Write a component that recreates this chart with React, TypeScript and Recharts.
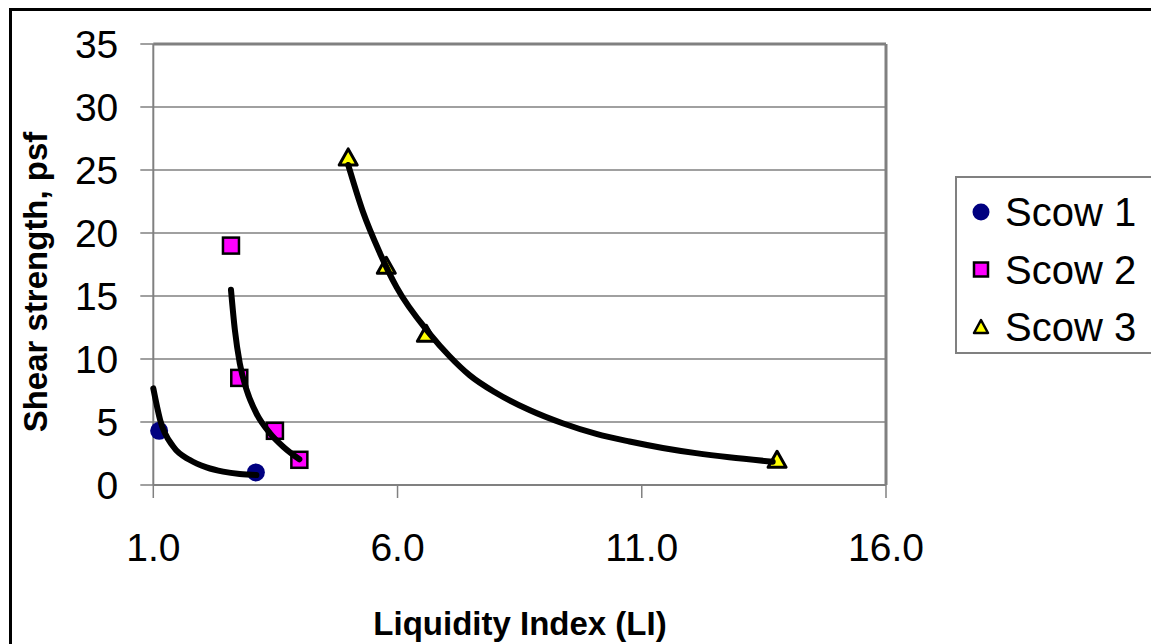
import React from 'react';
import { ComposedChart, Scatter, XAxis, YAxis, CartesianGrid, ReferenceLine } from 'recharts';

const FONT = '"Liberation Sans", Arial, Helvetica, sans-serif';

const xTicks = [1, 6, 11, 16];
const yTicks = [0, 5, 10, 15, 20, 25, 30, 35];
const seriesNames = ['Scow 1', 'Scow 2', 'Scow 3'];
const xTitle = 'Liquidity Index (LI)';
const yTitle = 'Shear strength, psf';

const scow1 = [
  { x: 1.12, y: 4.3 },
  { x: 3.1, y: 1.0 },
];
const scow2 = [
  { x: 2.59, y: 19.0 },
  { x: 2.76, y: 8.5 },
  { x: 3.49, y: 4.3 },
  { x: 3.99, y: 2.0 },
];
const scow3 = [
  { x: 4.99, y: 26.0 },
  { x: 5.77, y: 17.4 },
  { x: 6.59, y: 12.0 },
  { x: 13.77, y: 2.0 },
];

const trend1 = [
  { x: 1.0, y: 7.67 },
  { x: 1.14, y: 5.16 },
  { x: 1.41, y: 3.04 },
  { x: 1.75, y: 1.98 },
  { x: 2.09, y: 1.4 },
  { x: 2.43, y: 1.06 },
  { x: 2.77, y: 0.87 },
  { x: 3.11, y: 0.79 },
];
const trend2 = [
  { x: 2.59, y: 15.5 },
  { x: 2.67, y: 12.3 },
  { x: 2.77, y: 9.66 },
  { x: 2.91, y: 7.54 },
  { x: 3.11, y: 5.69 },
  { x: 3.39, y: 4.1 },
  { x: 3.66, y: 3.04 },
  { x: 3.99, y: 2.04 },
];
const trend3 = [
  { x: 4.99, y: 25.4 },
  { x: 5.29, y: 21.7 },
  { x: 5.64, y: 18.4 },
  { x: 5.98, y: 15.7 },
  { x: 6.66, y: 12.0 },
  { x: 7.07, y: 10.2 },
  { x: 7.48, y: 8.7 },
  { x: 8.02, y: 7.3 },
  { x: 8.7, y: 5.95 },
  { x: 9.38, y: 4.9 },
  { x: 10.07, y: 4.05 },
  { x: 10.75, y: 3.45 },
  { x: 11.43, y: 2.94 },
  { x: 12.11, y: 2.53 },
  { x: 12.79, y: 2.2 },
  { x: 13.68, y: 1.85 },
];

const CircleMark = (p: any) => <circle cx={p.cx} cy={p.cy} r={9} fill="#000080" />;
const SquareMark = (p: any) => (
  <rect x={p.cx - 8} y={p.cy - 8} width={16} height={16} fill="#FF00FF" stroke="#000" strokeWidth={2.5} />
);
const TriMark = (p: any) => (
  <polygon
    points={`${p.cx},${p.cy - 8.5} ${p.cx + 9},${p.cy + 7.5} ${p.cx - 9},${p.cy + 7.5}`}
    fill="#FFFF00"
    stroke="#000"
    strokeWidth={3}
    strokeLinejoin="round"
  />
);
const NoMark = () => null;

const legendMarks = [
  (cx: number, cy: number) => <circle cx={cx} cy={cy} r={8.5} fill="#000080" />,
  (cx: number, cy: number) => (
    <rect x={cx - 7} y={cy - 7} width={14} height={14} fill="#FF00FF" stroke="#000" strokeWidth={2.5} />
  ),
  (cx: number, cy: number) => (
    <polygon
      points={`${cx},${cy - 7} ${cx + 7},${cy + 6} ${cx - 7},${cy + 6}`}
      fill="#FFFF00"
      stroke="#000"
      strokeWidth={2.5}
      strokeLinejoin="round"
    />
  ),
];

const trendLine = { stroke: '#000', strokeWidth: 6, fill: 'none', strokeLinecap: 'round' as const };

export default function App() {
  return (
    <div style={{ position: 'absolute', left: 0, top: 0, width: 1151, height: 644, overflow: 'hidden', background: '#fff' }}>
      <div
        style={{
          position: 'absolute',
          left: 9,
          top: 8,
          width: 1300,
          height: 800,
          borderLeft: '3px solid #000',
          borderTop: '3px solid #000',
        }}
      />
      <div style={{ position: 'absolute', left: 0, top: 0 }}>
        <ComposedChart width={1151} height={644} margin={{ top: 44, right: 265, bottom: 99, left: 53.3 }}>
          <CartesianGrid vertical={false} stroke="#808080" strokeWidth={1.5} />
          <XAxis
            type="number"
            dataKey="x"
            domain={[1, 16]}
            ticks={xTicks}
            interval={0}
            tickFormatter={(v: number) => v.toFixed(1)}
            height={60}
            tickSize={13}
            tickMargin={35}
            axisLine={{ stroke: '#808080', strokeWidth: 2 }}
            tickLine={{ stroke: '#808080', strokeWidth: 1.5 }}
            tick={{ fill: '#000', fontSize: 39, fontFamily: FONT }}
          />
          <YAxis
            type="number"
            dataKey="y"
            domain={[0, 35]}
            ticks={yTicks}
            interval={0}
            width={100}
            tickSize={13}
            tickMargin={22}
            axisLine={{ stroke: '#808080', strokeWidth: 2 }}
            tickLine={{ stroke: '#808080', strokeWidth: 1.5 }}
            tick={{ fill: '#000', fontSize: 39, fontFamily: FONT }}
          />
          <ReferenceLine y={35} stroke="#808080" strokeWidth={3} />
          <ReferenceLine x={16} stroke="#808080" strokeWidth={3} />
          <Scatter name={seriesNames[0]} data={scow1} shape={CircleMark} isAnimationActive={false} />
          <Scatter name={seriesNames[1]} data={scow2} shape={SquareMark} isAnimationActive={false} />
          <Scatter name={seriesNames[2]} data={scow3} shape={TriMark} isAnimationActive={false} />
          <Scatter data={trend1} shape={NoMark} line={trendLine} lineType="joint" lineJointType="monotone" legendType="none" isAnimationActive={false} />
          <Scatter data={trend2} shape={NoMark} line={trendLine} lineType="joint" lineJointType="monotone" legendType="none" isAnimationActive={false} />
          <Scatter data={trend3} shape={NoMark} line={trendLine} lineType="joint" lineJointType="monotone" legendType="none" isAnimationActive={false} />
        </ComposedChart>
      </div>
      <svg width={1151} height={644} style={{ position: 'absolute', left: 0, top: 0, pointerEvents: 'none' }}>
        <text x={520} y={635} textAnchor="middle" fontFamily={FONT} fontWeight="bold" fontSize={33} fill="#000">
          {xTitle}
        </text>
        <text
          x={0}
          y={0}
          transform="translate(47,282) rotate(-90)"
          textAnchor="middle"
          fontFamily={FONT}
          fontWeight="bold"
          fontSize={33}
          fill="#000"
        >
          {yTitle}
        </text>
      </svg>
      <div
        style={{
          position: 'absolute',
          left: 955,
          top: 176,
          width: 260,
          height: 174,
          border: '2px solid #808080',
          background: '#fff',
        }}
      />
      <svg width={1151} height={644} style={{ position: 'absolute', left: 0, top: 0, pointerEvents: 'none' }}>
        {seriesNames.map((name, i) => {
          const cy = 212 + i * 57.5;
          return (
            <g key={name}>
              {legendMarks[i](981, cy)}
              <text x={1005} y={cy} dy="0.355em" fontFamily={FONT} fontSize={40} fill="#000">
                {name}
              </text>
            </g>
          );
        })}
      </svg>
    </div>
  );
}
